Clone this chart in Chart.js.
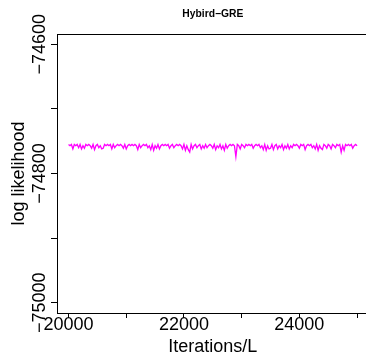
<!DOCTYPE html>
<html>
<head>
<meta charset="utf-8">
<script src="https://cdn.jsdelivr.net/npm/chart.js@4/dist/chart.umd.min.js"></script>
<style>
    html, body { margin: 0; padding: 0; background: #fff; }
    #wrap { width: 366px; height: 357px; overflow: hidden; }
    canvas { display: block; }
</style>
</head>
<body>
<div id="wrap"><canvas id="trace" width="372" height="357"></canvas></div>
<script>
// Hybird-GRE trace: log likelihood every 25 iterations from 20000 to 25000
const chartTitle = 'Hybird\u2212GRE';
const xTitle = 'Iterations/L';
const yTitle = 'log likelihood';
const iterStart = 20000;
const iterStep = 25;
const logLik = [
    -74755, -74757, -74755, -74762, -74755, -74757, -74755, -74760, -74755, -74762,
    -74757, -74761, -74755, -74757, -74755, -74757, -74761, -74755, -74763, -74757,
    -74755, -74760, -74757, -74762, -74761, -74755, -74757, -74755, -74757, -74755,
    -74762, -74755, -74760, -74757, -74755, -74757, -74755, -74757, -74761, -74755,
    -74762, -74757, -74755, -74757, -74755, -74757, -74755, -74757, -74763, -74755,
    -74760, -74757, -74755, -74757, -74755, -74760, -74757, -74763, -74755, -74764,
    -74757, -74761, -74755, -74762, -74757, -74755, -74757, -74755, -74757, -74755,
    -74761, -74757, -74755, -74760, -74757, -74755, -74757, -74755, -74757, -74762,
    -74755, -74764, -74757, -74763, -74767, -74755, -74762, -74757, -74755, -74760,
    -74757, -74755, -74762, -74757, -74761, -74755, -74760, -74757, -74755, -74757,
    -74761, -74755, -74763, -74757, -74760, -74755, -74762, -74757, -74764, -74755,
    -74761, -74757, -74755, -74757, -74755, -74757, -74774, -74755, -74757, -74762,
    -74755, -74757, -74760, -74755, -74757, -74755, -74757, -74755, -74761, -74757,
    -74755, -74757, -74755, -74760, -74757, -74763, -74755, -74764, -74757, -74762,
    -74761, -74755, -74763, -74757, -74755, -74762, -74757, -74760, -74755, -74763,
    -74757, -74761, -74755, -74762, -74757, -74760, -74755, -74757, -74755, -74757,
    -74761, -74755, -74757, -74755, -74763, -74757, -74755, -74757, -74755, -74760,
    -74757, -74762, -74755, -74764, -74757, -74761, -74763, -74755, -74757, -74761,
    -74755, -74757, -74762, -74755, -74757, -74760, -74755, -74757, -74755, -74767,
    -74757, -74764, -74755, -74757, -74755, -74757, -74755, -74761, -74757, -74755,
    -74757
];
const xTicks = [20000, 21000, 22000, 23000, 24000, 25000];
const xLabelled = [20000, 22000, 24000];
const yTicks = [-75000, -74900, -74800, -74700, -74600];
const yLabelled = [-74600, -74800, -75000];
const xRange = [19800, 25200];
const yRange = [-75016, -74584];

const FONT = "'Liberation Sans', Arial, sans-serif";

// R-like decorations: frame, main title, rotated y tick labels
const rDecor = {
    id: 'rDecor',
    afterDraw(chart) {
        const ctx = chart.ctx;
        const area = chart.chartArea;
        const yScale = chart.scales.y;
        ctx.save();
        ctx.strokeStyle = '#000';
        ctx.lineWidth = 1;
        ctx.strokeRect(Math.round(area.left) + 0.5, Math.round(area.top) + 0.5,
            area.right - area.left, area.bottom - area.top);

        ctx.fillStyle = '#000';
        ctx.font = 'bold 10.3px ' + FONT;
        ctx.textAlign = 'center';
        ctx.textBaseline = 'alphabetic';
        ctx.fillText(chartTitle, (area.left + area.right) / 2, 16.7);

        ctx.font = '18px ' + FONT;
        yLabelled.forEach(v => {
            const py = yScale.getPixelForValue(v);
            ctx.save();
            ctx.translate(area.left - 12, py);
            ctx.rotate(-Math.PI / 2);
            ctx.fillText(String(v).replace('-', '\u2212'), 0, 0);
            ctx.restore();
        });
        ctx.restore();
    }
};

document.addEventListener('DOMContentLoaded', () => {
    const points = logLik.map((v, i) => ({ x: iterStart + i * iterStep, y: v }));
    const ctx = document.getElementById('trace').getContext('2d');

    new Chart(ctx, {
        type: 'line',
        data: {
            datasets: [{
                data: points,
                borderColor: '#ff00ff',
                borderWidth: 1.3,
                pointRadius: 0,
                tension: 0,
                fill: false
            }]
        },
        options: {
            responsive: false,
            animation: false,
            layout: { padding: { left: 0, right: 3.4, top: 34, bottom: 0 } },
            plugins: {
                legend: { display: false },
                title: { display: false },
                tooltip: { enabled: false }
            },
            scales: {
                x: {
                    type: 'linear',
                    min: xRange[0],
                    max: xRange[1],
                    afterBuildTicks: (scale) => { scale.ticks = xTicks.map(v => ({ value: v })); },
                    afterFit: (scale) => { scale.height = 44; },
                    ticks: {
                        autoSkip: false,
                        maxRotation: 0,
                        padding: -4,
                        color: '#000',
                        font: { family: FONT, size: 18 },
                        callback: (value) => xLabelled.includes(value) ? String(value) : ''
                    },
                    grid: { display: true, drawOnChartArea: false, drawTicks: true, tickLength: 5, color: '#000' },
                    border: { display: true, color: '#000', width: 1 },
                    title: {
                        display: true,
                        text: xTitle,
                        color: '#000',
                        font: { family: FONT, size: 18, lineHeight: 1 },
                        padding: { top: 0, bottom: 1.3 }
                    }
                },
                y: {
                    type: 'linear',
                    min: yRange[0],
                    max: yRange[1],
                    afterBuildTicks: (scale) => { scale.ticks = yTicks.map(v => ({ value: v })); },
                    afterFit: (scale) => { scale.width = 57; },
                    ticks: { display: false },
                    grid: { display: true, drawOnChartArea: false, drawTicks: true, tickLength: 6, color: '#000' },
                    border: { display: true, color: '#000', width: 1 },
                    title: {
                        display: true,
                        text: yTitle,
                        color: '#000',
                        font: { family: FONT, size: 18, lineHeight: 1 },
                        padding: { top: 10, bottom: 0 }
                    }
                }
            }
        },
        plugins: [rDecor]
    });
});
</script>
</body>
</html>
